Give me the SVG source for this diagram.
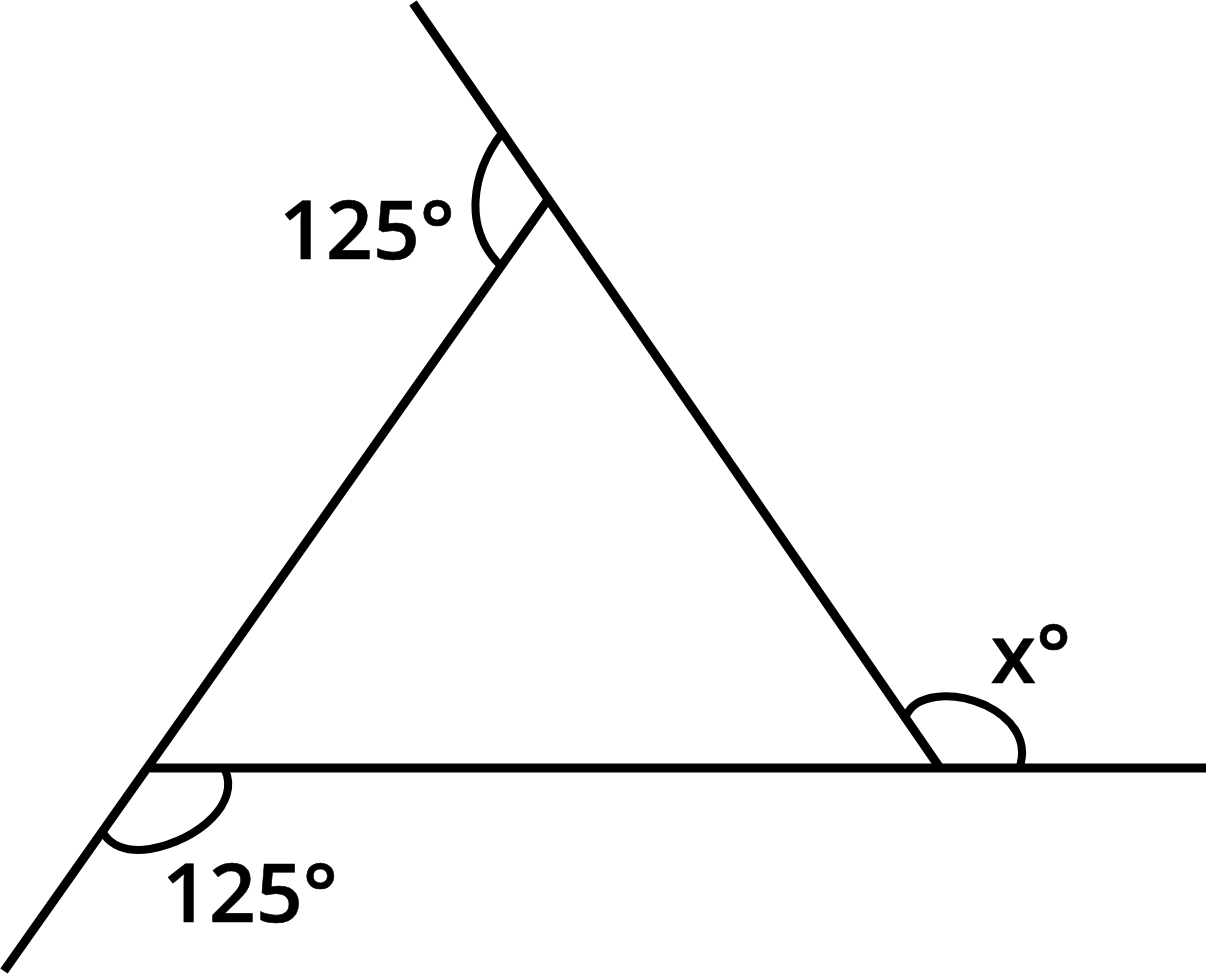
<svg xmlns="http://www.w3.org/2000/svg" width="1206" height="974" viewBox="0 0 1206 974">
<style>
.ln{stroke:#000;stroke-width:9;fill:none;stroke-linecap:butt}
.arc{stroke:#000;stroke-width:8;fill:none;stroke-linecap:butt}
.lbl{font-family:"Open Sans","Noto Sans",sans-serif;font-size:82px;font-weight:600;fill:#000;stroke:#000;stroke-width:0.6;stroke-linejoin:round}
</style>
<rect width="1206" height="974" fill="#fff"/>
<g id="lines">
<line class="ln" x1="413" y1="3" x2="940" y2="768"/>
<line class="ln" x1="4" y1="971" x2="547" y2="201"/>
<line class="ln" x1="150" y1="768" x2="1206" y2="768"/>
</g>
<g id="angle-top">
<path class="arc" d="M502,133 C472,172 462,228 501,266"/>
<text class="lbl" x="367" y="259" text-anchor="middle">125°</text>
</g>
<g id="angle-bottom-left">
<path class="arc" d="M225,770 C240,802 200,840 150,849 C125,853 110,844 104,834"/>
<text class="lbl" x="250" y="922" text-anchor="middle">125°</text>
</g>
<g id="angle-x">
<path class="arc" d="M906,716 C915,695 950,690 985,705 C1012,718 1028,740 1020,766"/>
<text class="lbl" x="1031" y="683" text-anchor="middle">x°</text>
</g>
</svg>
